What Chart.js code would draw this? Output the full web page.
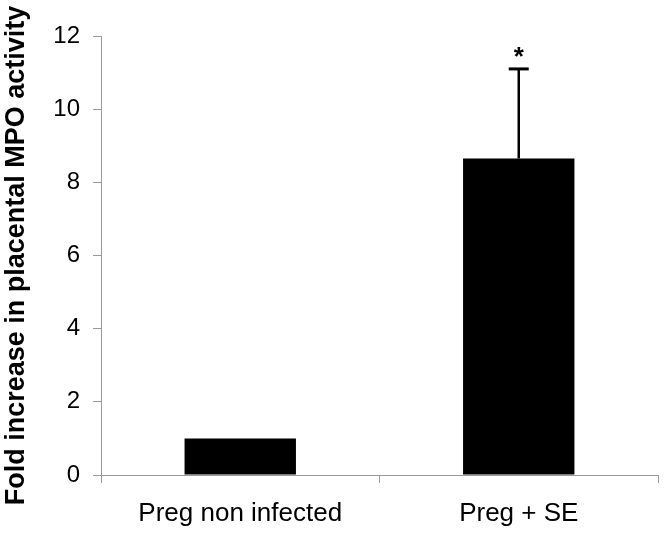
<!DOCTYPE html>
<html>
<head>
<meta charset="utf-8">
<script src="https://cdn.jsdelivr.net/npm/chart.js@4/dist/chart.umd.min.js"></script>
<style>
  html, body { margin: 0; padding: 0; background: #fff; }
  #wrap { width: 665px; height: 536px; position: relative; }
</style>
</head>
<body>
<div id="wrap"><canvas id="c" width="665" height="536"></canvas></div>
<script>
const categories = ['Preg non infected', 'Preg + SE'];
const foldIncrease = [1.0, 8.65];
const errorPlus = [0, 2.45];
const significance = ['', '*'];
const yMin = 0, yMax = 12, yStep = 2;
const yTitle = 'Fold increase in placental MPO activity';

const FONT = '"Liberation Sans", Arial, sans-serif';
const AXIS_COLOR = '#9a9a9a';

const errorBarPlugin = {
  id: 'errorBars',
  afterDatasetsDraw(chart) {
    const ctx = chart.ctx;
    const meta = chart.getDatasetMeta(0);
    const y = chart.scales.y;
    ctx.save();
    meta.data.forEach((bar, i) => {
      const top = foldIncrease[i] + errorPlus[i];
      if (errorPlus[i] > 0) {
        const yTop = y.getPixelForValue(top);
        const yBase = y.getPixelForValue(foldIncrease[i]);
        ctx.strokeStyle = '#000';
        ctx.lineWidth = 2.5;
        ctx.beginPath();
        ctx.moveTo(bar.x, yBase);
        ctx.lineTo(bar.x, yTop);
        ctx.stroke();
        ctx.lineWidth = 3;
        ctx.beginPath();
        ctx.moveTo(bar.x - 10, yTop);
        ctx.lineTo(bar.x + 10, yTop);
        ctx.stroke();
      }
      if (significance[i]) {
        ctx.fillStyle = '#000';
        ctx.font = 'bold 26px ' + FONT;
        ctx.textAlign = 'center';
        ctx.textBaseline = 'alphabetic';
        ctx.fillText(significance[i], bar.x, y.getPixelForValue(top) - 4);
      }
    });
    ctx.restore();
  }
};

new Chart(document.getElementById('c'), {
  type: 'bar',
  data: {
    labels: categories,
    datasets: [{
      data: foldIncrease,
      backgroundColor: '#000',
      borderWidth: 0,
      categoryPercentage: 1.0,
      barPercentage: 0.4
    }]
  },
  options: {
    responsive: false,
    animation: false,
    devicePixelRatio: 1,
    layout: { padding: { top: 36, right: 7, left: 0, bottom: 0 } },
    plugins: { legend: { display: false }, tooltip: { enabled: false } },
    scales: {
      x: {
        offset: true,
        grid: {
          offset: true,
          drawOnChartArea: false,
          drawTicks: true,
          tickLength: 8,
          color: AXIS_COLOR
        },
        border: { color: AXIS_COLOR, width: 1 },
        ticks: {
          color: '#000',
          padding: 15,
          maxRotation: 0,
          font: { family: FONT, size: 26 }
        },
        afterFit(scale) { scale.height = 61; }
      },
      y: {
        min: yMin,
        max: yMax,
        grid: {
          drawOnChartArea: false,
          drawTicks: true,
          tickLength: 8,
          color: AXIS_COLOR
        },
        border: { color: AXIS_COLOR, width: 1 },
        ticks: {
          stepSize: yStep,
          color: '#000',
          padding: 13,
          font: { family: FONT, size: 24 }
        },
        title: {
          display: true,
          text: yTitle,
          color: '#000',
          padding: { top: 0, bottom: 0 },
          font: { family: FONT, size: 27, weight: 'bold' }
        },
        afterFit(scale) { scale.width = 101; }
      }
    }
  },
  plugins: [errorBarPlugin]
});
</script>
</body>
</html>
